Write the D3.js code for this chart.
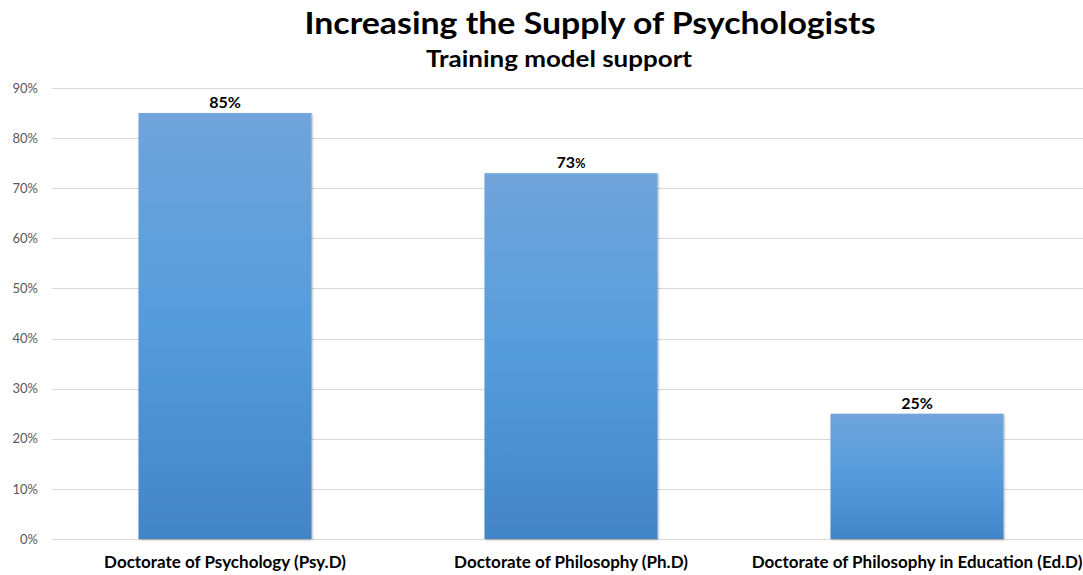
<!DOCTYPE html>
<html><head><meta charset="utf-8">
<script src="https://cdn.jsdelivr.net/npm/d3@7"></script>
<style>body{margin:0;background:#fff}svg{display:block}</style>
</head><body><svg id="c" width="1083" height="575"></svg>
<script>
const categories = ["Doctorate of Psychology (Psy.D)", "Doctorate of Philosophy (Ph.D)", "Doctorate of Philosophy in Education (Ed.D)"];
const values = [85, 73, 25];
const valueLabels = ["85", "73", "25"];
const yTicks = [0, 10, 20, 30, 40, 50, 60, 70, 80, 90];
const title = "Increasing the Supply of Psychologists";
const subtitle = "Training model support";

const svg = d3.select("#c");
const font = "Lato, 'Open Sans', sans-serif";
const x = d3.scaleBand().domain(categories).range([52, 1090]).paddingInner(0.5).paddingOuter(0.25);
const y = d3.scaleLinear().domain([0, 90]).range([539, 88]);

const defs = svg.append("defs");
const g = defs.append("linearGradient").attr("id", "bg").attr("x1", 0).attr("y1", 0).attr("x2", 0).attr("y2", 1);
g.append("stop").attr("offset", "0%").attr("stop-color", "#70a4da");
g.append("stop").attr("offset", "50%").attr("stop-color", "#559cdc");
g.append("stop").attr("offset", "100%").attr("stop-color", "#4285c6");
const f = defs.append("filter").attr("id", "sh").attr("x", "-5%").attr("y", "-5%").attr("width", "115%").attr("height", "115%");
f.append("feDropShadow").attr("dx", 1).attr("dy", 1).attr("stdDeviation", 1.2).attr("flood-color", "#000").attr("flood-opacity", 0.3);

// gridlines
svg.append("g").selectAll("line").data(yTicks).join("line")
  .attr("x1", 52).attr("x2", 1083)
  .attr("y1", d => Math.round(y(d)) + 0.5).attr("y2", d => Math.round(y(d)) + 0.5)
  .attr("stroke", "#d9d9d9").attr("stroke-width", 1);

// y axis labels
const yAxis = d3.axisLeft(y).tickValues(yTicks).tickFormat(d => d + "%").tickSize(0).tickPadding(0);
const ya = svg.append("g").attr("transform", "translate(38,0)").call(yAxis);
ya.select(".domain").remove();
ya.selectAll("text").attr("font-family", font).attr("font-size", 13).attr("fill", "#595959");

// bars
svg.append("g").selectAll("rect").data(values).join("rect")
  .attr("x", (d, i) => x(categories[i])).attr("width", x.bandwidth())
  .attr("y", d => y(d)).attr("height", d => y(0) - y(d))
  .attr("fill", "url(#bg)").attr("filter", "url(#sh)");

// value labels
const vl = svg.append("g").selectAll("text").data(values).join("text")
  .attr("x", (d, i) => x(categories[i]) + x.bandwidth() / 2)
  .attr("y", d => y(d) - 5)
  .attr("text-anchor", "middle").attr("font-family", font).attr("font-weight", "bold")
  .attr("font-size", 16).attr("fill", "#000");
vl.append("tspan").text((d, i) => valueLabels[i]);
vl.append("tspan").text("%").attr("font-size", (d, i) => i === 1 ? 12.5 : 16);

// category labels
const xa = svg.append("g").attr("transform", "translate(0,539)")
  .call(d3.axisBottom(x).tickSize(0).tickPadding(0));
xa.select(".domain").remove();
xa.selectAll("text").attr("dy", null).attr("y", 29).attr("font-family", font)
  .attr("font-weight", "bold").attr("font-size", 17).attr("fill", "#000");

// title
svg.append("text").attr("x", 590).attr("y", 34).attr("text-anchor", "middle")
  .attr("font-family", font).attr("font-weight", "bold").attr("font-size", 29.5).attr("fill", "#000")
  .attr("textLength", 571).attr("lengthAdjust", "spacingAndGlyphs").text(title);
svg.append("text").attr("x", 559).attr("y", 67).attr("text-anchor", "middle")
  .attr("font-family", font).attr("font-weight", "bold").attr("font-size", 23).attr("fill", "#000")
  .attr("textLength", 266).attr("lengthAdjust", "spacingAndGlyphs").text(subtitle);
</script></body></html>
